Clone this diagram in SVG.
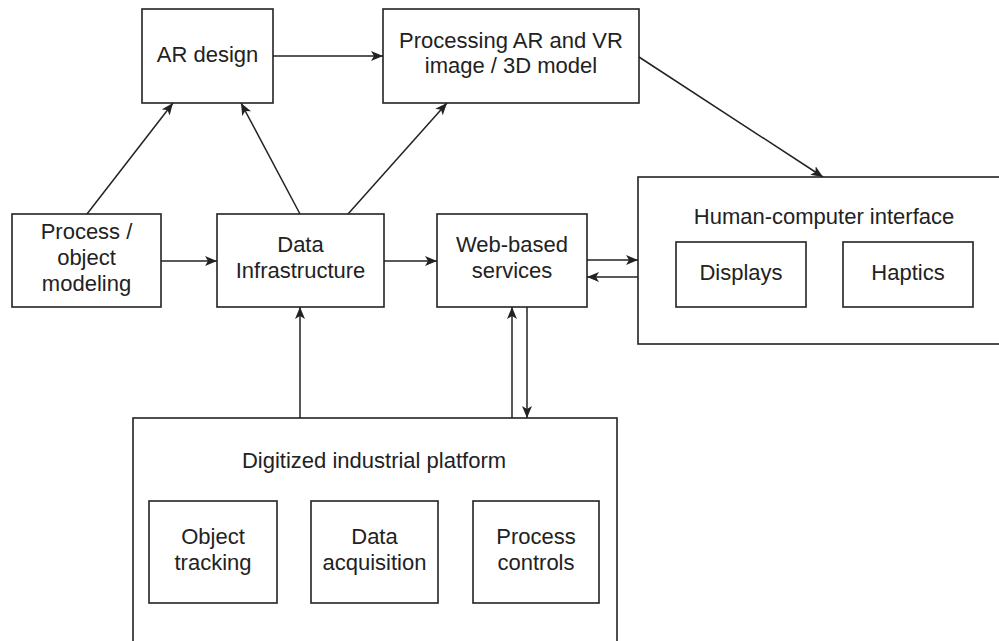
<svg xmlns="http://www.w3.org/2000/svg" width="999" height="641" viewBox="0 0 999 641">
<style>
.box{fill:#fff;stroke:#222;stroke-width:1.6}
.t{font-family:"Liberation Sans",Arial,sans-serif;font-size:22px;fill:#222;text-anchor:middle}
.c{fill:none;stroke:#222;stroke-width:1.5}
</style>
<defs>
<marker id="arr" markerUnits="userSpaceOnUse" markerWidth="14" markerHeight="12" refX="12" refY="5" orient="auto">
<path d="M0,0 L12,5 L0,10 L3,5 z" fill="#222"/>
</marker>
</defs>
<rect width="999" height="641" fill="#fff"/>
<g id="ar-design"><rect class="box" x="142" y="9" width="131" height="94"/><text class="t" x="207.5" y="62">AR design</text></g>
<g id="processing"><rect class="box" x="383" y="9" width="256" height="94"/><text class="t" x="511" y="48">Processing AR and VR</text><text class="t" x="511" y="73">image / 3D model</text></g>
<g id="modeling"><rect class="box" x="12" y="214" width="149" height="93"/><text class="t" x="86.5" y="239">Process /</text><text class="t" x="86.5" y="265">object</text><text class="t" x="86.5" y="291">modeling</text></g>
<g id="data-infra"><rect class="box" x="217" y="214" width="167" height="93"/><text class="t" x="300.5" y="252">Data</text><text class="t" x="300.5" y="278">Infrastructure</text></g>
<g id="web"><rect class="box" x="437" y="214" width="150" height="93"/><text class="t" x="512" y="252">Web-based</text><text class="t" x="512" y="278">services</text></g>
<g id="hci"><rect class="box" x="638" y="177" width="380" height="167"/><text class="t" x="824" y="224">Human-computer interface</text>
<g id="displays"><rect class="box" x="676" y="242" width="130" height="65"/><text class="t" x="741" y="280">Displays</text></g>
<g id="haptics"><rect class="box" x="843" y="242" width="130" height="65"/><text class="t" x="908" y="280">Haptics</text></g></g>
<g id="platform"><rect class="box" x="133" y="418" width="484" height="230"/><text class="t" x="374" y="468">Digitized industrial platform</text>
<g id="tracking"><rect class="box" x="149" y="501" width="128" height="102"/><text class="t" x="213" y="544">Object</text><text class="t" x="213" y="570">tracking</text></g>
<g id="acquisition"><rect class="box" x="311" y="501" width="127" height="102"/><text class="t" x="374.5" y="544">Data</text><text class="t" x="374.5" y="570">acquisition</text></g>
<g id="controls"><rect class="box" x="473" y="501" width="126" height="102"/><text class="t" x="536" y="544">Process</text><text class="t" x="536" y="570">controls</text></g></g>
<g id="connectors">
<line class="c" x1="273" y1="56" x2="383" y2="56" marker-end="url(#arr)"/>
<line class="c" x1="87" y1="214" x2="173" y2="103" marker-end="url(#arr)"/>
<line class="c" x1="300" y1="214" x2="241" y2="103" marker-end="url(#arr)"/>
<line class="c" x1="348" y1="214" x2="447" y2="103" marker-end="url(#arr)"/>
<line class="c" x1="161" y1="261" x2="217" y2="261" marker-end="url(#arr)"/>
<line class="c" x1="384" y1="261" x2="437" y2="261" marker-end="url(#arr)"/>
<line class="c" x1="639" y1="57" x2="823" y2="177" marker-end="url(#arr)"/>
<line class="c" x1="587" y1="260" x2="638" y2="260" marker-end="url(#arr)"/>
<line class="c" x1="638" y1="277" x2="587" y2="277" marker-end="url(#arr)"/>
<line class="c" x1="300" y1="418" x2="300" y2="307" marker-end="url(#arr)"/>
<line class="c" x1="512" y1="418" x2="512" y2="307" marker-end="url(#arr)"/>
<line class="c" x1="527" y1="307" x2="527" y2="418" marker-end="url(#arr)"/>
</g>
</svg>
